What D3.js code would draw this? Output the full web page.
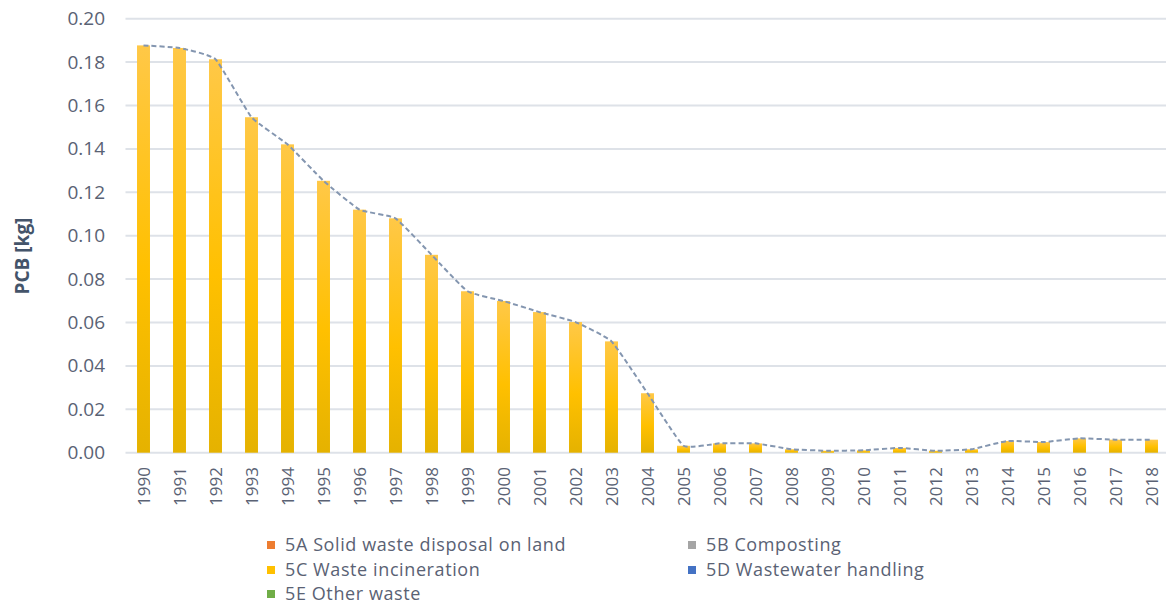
<!DOCTYPE html>
<html>
<head>
<meta charset="utf-8">
<script src="https://cdn.jsdelivr.net/npm/d3@7/dist/d3.min.js"></script>
<style>
html,body{margin:0;padding:0;background:#fff;}
svg{display:block;font-family:"Open Sans","Liberation Sans",sans-serif;}
</style>
</head>
<body>
<svg id="chart" width="1166" height="605"></svg>
<script>
const years = ["1990","1991","1992","1993","1994","1995","1996","1997","1998","1999","2000","2001","2002","2003","2004","2005","2006","2007","2008","2009","2010","2011","2012","2013","2014","2015","2016","2017","2018"];
const s5A = new Array(29).fill(0);
const s5B = new Array(29).fill(0);
const s5C = [0.1877,0.1865,0.1813,0.1546,0.1421,0.1253,0.1120,0.1080,0.0912,0.0744,0.0699,0.0648,0.0602,0.0513,0.0274,0.0032,0.0043,0.0043,0.0016,0.0009,0.0011,0.0022,0.0009,0.0016,0.0054,0.0049,0.0066,0.0060,0.0060];
const s5D = new Array(29).fill(0);
const s5E = new Array(29).fill(0);
const seriesNames = ["5A Solid waste disposal on land","5B Composting","5C Waste incineration","5D Wastewater handling","5E Other waste"];
const seriesColors = ["#ED7D31","#A5A5A5","#FFC000","#4472C4","#70AD47"];
const yTicks = [0,0.02,0.04,0.06,0.08,0.10,0.12,0.14,0.16,0.18,0.20];
const yTitle = "PCB [kg]";

const svg = d3.select("#chart");
const mLeft = 125.5, mRight = 1169.5, mTop = 18.7, mBottom = 452.7;

const x = d3.scaleBand().domain(years).range([mLeft, mRight]).paddingInner(0.64).paddingOuter(0.32);
const y = d3.scaleLinear().domain([0, 0.20]).range([mBottom, mTop]);

const defs = svg.append("defs");
const grad = defs.append("linearGradient").attr("id","gC").attr("x1",0).attr("y1",0).attr("x2",0).attr("y2",1);
grad.append("stop").attr("offset","0%").attr("stop-color","#FFC847");
grad.append("stop").attr("offset","55%").attr("stop-color","#FFC000");
grad.append("stop").attr("offset","100%").attr("stop-color","#E5B200");

// gridlines
svg.append("g").selectAll("line").data(yTicks).join("line")
  .attr("x1", mLeft).attr("x2", 1166)
  .attr("y1", d => y(d)).attr("y2", d => y(d))
  .attr("stroke", "#DEE2E8").attr("stroke-width", 2);

// y axis labels
const yAxis = d3.axisLeft(y).tickValues(yTicks).tickFormat(d3.format(".2f")).tickSize(0).tickPadding(0);
const gy = svg.append("g").attr("transform", `translate(${105},0)`).call(yAxis);
gy.select(".domain").remove();
gy.selectAll("text").attr("font-size", 19).attr("fill", "#5A6274").attr("font-family", "Open Sans, sans-serif");

// stacked bars
const table = years.map((yr, i) => ({year: yr, s0: s5A[i], s1: s5B[i], s2: s5C[i], s3: s5D[i], s4: s5E[i]}));
const stack = d3.stack().keys(["s0","s1","s2","s3","s4"])(table);
const fills = [seriesColors[0], seriesColors[1], "url(#gC)", seriesColors[3], seriesColors[4]];
svg.append("g").selectAll("g").data(stack).join("g")
  .attr("fill", (d, i) => fills[i])
  .selectAll("rect").data(d => d.filter(p => p[1] - p[0] > 0)).join("rect")
  .attr("x", d => x(d.data.year))
  .attr("width", x.bandwidth())
  .attr("y", d => y(d[1]))
  .attr("height", d => y(d[0]) - y(d[1]));

// total line
const totals = years.map((yr, i) => s5A[i] + s5B[i] + s5C[i] + s5D[i] + s5E[i]);
const line = d3.line()
  .x((d, i) => x(years[i]) + x.bandwidth() / 2)
  .y(d => y(d))
  .curve(d3.curveCardinal.tension(0.6));
svg.append("path").datum(totals).attr("d", line)
  .attr("fill", "none").attr("stroke", "#8496B0").attr("stroke-width", 2)
  .attr("stroke-dasharray", "5,3");

// x labels
svg.append("g").selectAll("text").data(years).join("text")
  .attr("transform", d => `translate(${x(d) + x.bandwidth() / 2 + 6},${467}) rotate(-90)`)
  .attr("text-anchor", "end")
  .attr("font-size", 17)
  .attr("fill", "#5A6274")
  .text(d => d);

// y title
svg.append("text")
  .attr("transform", `translate(${29},${256}) rotate(-90)`)
  .attr("text-anchor", "middle")
  .attr("font-size", 19).attr("font-weight", "bold")
  .attr("fill", "#44546A")
  .text(yTitle);

// legend
const legendPos = [[267,545],[688,545],[267,570],[688,570],[267,594]];
const lg = svg.append("g").selectAll("g").data(seriesNames).join("g")
  .attr("transform", (d, i) => `translate(${legendPos[i][0]},${legendPos[i][1]})`);
lg.append("rect").attr("x", 0).attr("y", -4).attr("width", 8).attr("height", 8)
  .attr("fill", (d, i) => seriesColors[i]);
lg.append("text").attr("x", 18).attr("y", 6).attr("font-size", 18)
  .attr("letter-spacing", 0.6).attr("fill", "#5A6274").text(d => d);
</script>
</body>
</html>
